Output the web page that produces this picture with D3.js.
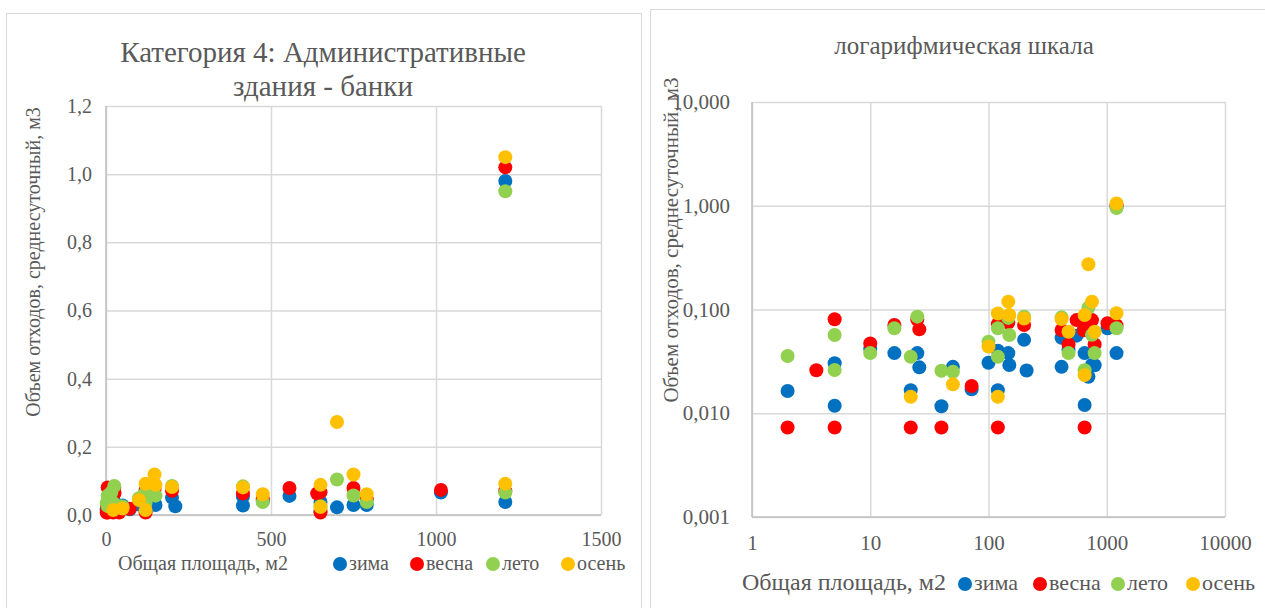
<!DOCTYPE html>
<html>
<head>
<meta charset="utf-8">
<script src="https://cdn.jsdelivr.net/npm/d3@7"></script>
<style>
  html, body { margin: 0; padding: 0; background: #fff; }
  svg { display: block; font-family: "Liberation Serif", "Times New Roman", serif; }
  text { font-family: "Liberation Serif", "Times New Roman", serif; fill: #595959; }
</style>
</head>
<body>
<svg id="chart" width="1265" height="608"></svg>
<script>
// Building floor areas (m2) and average daily waste volume (m3) per season.
const area  = [2, 3.5, 5, 5, 10, 16, 22, 25, 26, 40, 50, 72, 100, 120, 120, 147, 150, 200, 210, 415, 415, 475, 556, 640, 650, 650, 700, 750, 790, 1015, 1210, 1210];
const zima  = [0.0164, null, 0.0303, 0.0118, 0.042, 0.038, 0.0167, 0.038, 0.0277, 0.0117, 0.028, 0.017, 0.0307, 0.040, 0.0167, 0.038, 0.0292, 0.051, 0.0258, 0.0534, 0.028, 0.041, 0.056, null, 0.038, 0.012, 0.0225, 0.0292, 0.029, 0.066, 0.98, 0.038];
const vesna = [0.0073, 0.026, 0.0805, 0.0073, 0.047, 0.071, 0.0073, 0.080, 0.0644, 0.0073, null, 0.0183, null, 0.072, 0.0073, 0.075, null, 0.071, null, 0.0634, null, 0.046, 0.079, 0.063, 0.067, 0.0073, null, 0.079, 0.046, 0.0736, 1.02, 0.070];
const leto  = [0.0356, null, 0.0567, 0.0261, 0.038, 0.066, 0.035, 0.0853, null, 0.0257, 0.0251, null, 0.049, 0.066, 0.035, 0.083, 0.0567, 0.085, null, 0.084, null, 0.038, null, null, null, 0.026, 0.104, 0.057, 0.038, null, 0.95, 0.066];
const osen  = [null, null, null, null, null, null, 0.0144, null, null, null, 0.019, null, 0.044, 0.0915, 0.0144, 0.119, 0.0885, 0.082, null, 0.081, null, 0.061, null, null, 0.0885, 0.0233, 0.273, 0.119, 0.061, null, 1.05, 0.092];

const seasonNames  = ["зима", "весна", "лето", "осень"];
const seasonValues = [zima, vesna, leto, osen];
const seasonColors = ["#0070C0", "#FF0000", "#92D050", "#FFC000"];

const linXTicks = [0, 500, 1000, 1500];
const linYTicks = [0, 0.2, 0.4, 0.6, 0.8, 1.0, 1.2];
const logXTicks = [1, 10, 100, 1000, 10000];
const logYTicks = [0.001, 0.01, 0.1, 1, 10];

const titleLeft  = ["Категория 4: Административные", "здания - банки"];
const titleRight = "логарифмическая шкала";
const xTitle = "Общая площадь, м2";
const yTitle = "Объем отходов, среднесуточный, м3";

const FONT = "'Liberation Serif', 'Times New Roman', serif";
const ru = d3.formatLocale({ decimal: ",", thousands: " ", grouping: [3], currency: ["", ""] });

const svg = d3.select("#chart");
svg.append("rect").attr("width", 1265).attr("height", 608).attr("fill", "#fff");

function seriesPoints(values) {
  return area.map((a, i) => ({ x: a, y: values[i] })).filter(d => d.y != null && d.y > 0);
}

function label(sel) {
  return sel.style("font-family", FONT).style("fill", "#595959");
}

function drawPanel(cfg) {
  const g = svg.append("g");
  // chart frame
  g.append("rect")
    .attr("x", cfg.frame[0] + 0.5).attr("y", cfg.frame[1] + 0.5)
    .attr("width", cfg.frame[2]).attr("height", cfg.frame[3])
    .attr("fill", "#fff").attr("stroke", "#d9d9d9").attr("stroke-width", 1);

  const x = cfg.x, y = cfg.y;
  const [x0, x1] = x.range(), [y0, y1] = y.range();

  // gridlines and tick labels
  const xAxis = d3.axisBottom(x).tickValues(cfg.xTicks).tickFormat(cfg.xFmt).tickSize(-(y0 - y1)).tickPadding(cfg.xPad);
  const yAxis = d3.axisLeft(y).tickValues(cfg.yTicks).tickFormat(cfg.yFmt).tickSize(-(x1 - x0)).tickPadding(cfg.yPad);

  const gx = g.append("g").attr("transform", `translate(0,${y0})`).call(xAxis);
  const gy = g.append("g").attr("transform", `translate(${x0},0)`).call(yAxis);
  [gx, gy].forEach(a => {
    a.attr("font-family", null);
    a.select(".domain").remove();
    a.selectAll(".tick line").attr("stroke", "#d9d9d9").attr("stroke-width", 1.5);
    label(a.selectAll(".tick text")).style("font-size", cfg.tickSize + "px");
  });
  // axis lines
  g.append("line").attr("x1", x0).attr("x2", x1).attr("y1", y0).attr("y2", y0).attr("stroke", "#bfbfbf").attr("stroke-width", 1.5);
  g.append("line").attr("x1", x0).attr("x2", x0).attr("y1", y0).attr("y2", y1).attr("stroke", "#bfbfbf").attr("stroke-width", 1.5);

  // points, season by season
  seasonValues.forEach((vals, s) => {
    g.append("g").selectAll("circle").data(seriesPoints(vals)).join("circle")
      .attr("cx", d => x(d.x)).attr("cy", d => y(d.y)).attr("r", 7)
      .attr("fill", seasonColors[s]);
  });

  // title
  const t = label(g.append("text")).attr("text-anchor", "middle").style("font-size", cfg.titleSize + "px");
  cfg.title.forEach((line, i) => {
    t.append("tspan").attr("x", cfg.titlePos[0]).attr("y", cfg.titlePos[1] + i * cfg.titleLead).text(line);
  });

  // y-axis title
  label(g.append("text")).attr("text-anchor", "middle").style("font-size", cfg.yTitleSize + "px")
    .attr("transform", `translate(${cfg.yTitlePos[0]},${cfg.yTitlePos[1]}) rotate(-90)`)
    .text(yTitle);

  // x-axis title and legend on one row
  label(g.append("text")).attr("x", cfg.xTitlePos[0]).attr("y", cfg.xTitlePos[1])
    .style("font-size", cfg.xTitleSize + "px").text(xTitle);
  seasonNames.forEach((name, s) => {
    const lx = cfg.legendX[s], ly = cfg.xTitlePos[1] - 6;
    g.append("circle").attr("cx", lx).attr("cy", ly).attr("r", 7).attr("fill", seasonColors[s]);
    label(g.append("text")).attr("x", lx + 9).attr("y", cfg.xTitlePos[1])
      .style("font-size", cfg.legendSize + "px").text(name);
  });
}

drawPanel({
  frame: [6, 13, 635, 600],
  x: d3.scaleLinear().domain([0, 1500]).range([106, 601]),
  y: d3.scaleLinear().domain([0, 1.2]).range([515, 106]),
  xTicks: linXTicks, yTicks: linYTicks,
  xFmt: ru.format("d"), yFmt: ru.format(".1f"),
  xPad: 17, yPad: 14, tickSize: 20,
  title: titleLeft, titlePos: [323, 62], titleLead: 34, titleSize: 29,
  yTitleSize: 20, yTitlePos: [40, 262],
  xTitlePos: [118, 570], xTitleSize: 20, legendSize: 20,
  legendX: [340, 417, 493, 568]
});

drawPanel({
  frame: [650, 9, 620, 605],
  x: d3.scaleLog().domain([1, 10000]).range([752, 1225]),
  y: d3.scaleLog().domain([0.001, 10]).range([517, 102]),
  xTicks: logXTicks, yTicks: logYTicks,
  xFmt: ru.format("d"), yFmt: ru.format(".3f"),
  xPad: 18, yPad: 22, tickSize: 21,
  title: [titleRight], titlePos: [964, 54], titleLead: 0, titleSize: 25,
  yTitleSize: 21, yTitlePos: [678, 240],
  xTitlePos: [742, 590], xTitleSize: 24, legendSize: 22,
  legendX: [965, 1040, 1118, 1193]
});
</script>
</body>
</html>
